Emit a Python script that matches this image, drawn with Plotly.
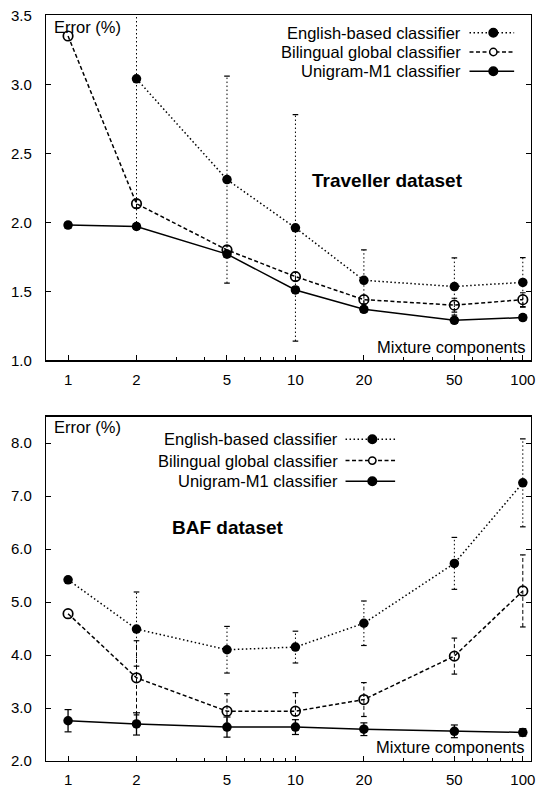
import plotly.graph_objects as go

# ---------------- data ----------------
mixtures = [1, 2, 5, 10, 20, 50, 100]
x_tick_labels = ["1", "2", "5", "10", "20", "50", "100"]
minor_ticks = [3, 4, 6, 7, 8, 9, 30, 40, 60, 70, 80, 90]
series_names = ["English-based classifier", "Bilingual global classifier", "Unigram-M1 classifier"]

# Traveller dataset (top)
trav_english = [None, 3.04, 2.31, 1.96, 1.58, 1.535, 1.565]
trav_english_err = [0, 1.07, 0.75, 0.82, 0.22, 0.207, 0.18]
trav_bilingual = [3.35, 2.135, 1.80, 1.607, 1.44, 1.40, 1.44]
trav_bilingual_err = [0, 0.03, 0.03, 0.03, 0.03, 0.05, 0.05]
trav_unigram = [1.98, 1.97, 1.77, 1.51, 1.37, 1.29, 1.31]
trav_unigram_err = [0.02, 0.02, 0.02, 0.02, 0.02, 0.02, 0.02]

# BAF dataset (bottom)
baf_english = [5.42, 4.49, 4.10, 4.15, 4.60, 5.73, 7.25]
baf_english_err = [0, 0.70, 0.44, 0.30, 0.42, 0.49, 0.83]
baf_bilingual = [4.78, 3.57, 2.94, 2.94, 3.16, 3.98, 5.21]
baf_bilingual_err = [0, 0.70, 0.33, 0.35, 0.32, 0.34, 0.68]
baf_unigram = [2.76, 2.70, 2.64, 2.64, 2.60, 2.56, 2.54]
baf_unigram_err = [0.21, 0.21, 0.19, 0.14, 0.12, 0.12, 0.07]

# ---------------- layout helpers ----------------
W, H = 541, 794
ML, MR, MT, MB = 46, 6, 14, 24
PW = W - ML - MR
PH = H - MT - MB


def fx(px):
    return (px - ML) / PW


def fy(py):
    return (H - MB - py) / PH


FONT = "Liberation Sans, Arial, Helvetica, sans-serif"
DOT = "1.5px,2.5px"
DASH = "4px,2.5px"
styles = [
    dict(dash=DOT, symbol="circle", open=False),
    dict(dash=DASH, symbol="circle-open", open=True),
    dict(dash="solid", symbol="circle", open=False),
]

fig = go.Figure()


def add_series(xaxis, yaxis, vals, errs, st):
    ex, ey, cx, cy = [], [], [], []
    for x, v, e in zip(mixtures, vals, errs):
        if v is None or not e:
            continue
        ex += [x, x, None]
        ey += [v - e, v + e, None]
        cx += [x, x]
        cy += [v - e, v + e]
    lw = 1.0 if st["dash"] != "solid" else 1.3
    fig.add_trace(go.Scatter(x=ex, y=ey, mode="lines", xaxis=xaxis, yaxis=yaxis,
                             line=dict(color="black", width=lw, dash=st["dash"]),
                             showlegend=False, hoverinfo="skip"))
    fig.add_trace(go.Scatter(x=cx, y=cy, mode="markers", xaxis=xaxis, yaxis=yaxis,
                             marker=dict(symbol="line-ew", size=5 if st["dash"] == "solid" else 4,
                                         line=dict(color="black", width=1.2)),
                             showlegend=False, hoverinfo="skip"))
    mk = dict(symbol=st["symbol"], size=9.5, color="black")
    if st["open"]:
        mk["line"] = dict(color="black", width=1.7)
    fig.add_trace(go.Scatter(x=mixtures, y=vals, mode="lines+markers", xaxis=xaxis, yaxis=yaxis,
                             line=dict(color="black", width=1.5, dash=st["dash"]),
                             marker=mk, showlegend=False, connectgaps=False))


for vals, errs, st in zip([trav_english, trav_bilingual, trav_unigram],
                          [trav_english_err, trav_bilingual_err, trav_unigram_err], styles):
    add_series("x", "y", vals, errs, st)
for vals, errs, st in zip([baf_english, baf_bilingual, baf_unigram],
                          [baf_english_err, baf_bilingual_err, baf_unigram_err], styles):
    add_series("x2", "y2", vals, errs, st)

xaxis_common = dict(
    type="log", range=[-0.097, 2.036],
    tickmode="array", tickvals=mixtures, ticktext=x_tick_labels,
    ticks="inside", ticklen=5, tickwidth=1, tickcolor="black",
    minor=dict(tickmode="array", tickvals=minor_ticks,
               ticks="inside", ticklen=3, tickcolor="black", showgrid=False),
    showline=True, linecolor="black", linewidth=1.2, mirror=True,
    showgrid=False, zeroline=False,
    tickfont=dict(family=FONT, size=15, color="black"),
    ticklabelstandoff=5,
)
yaxis_common = dict(
    ticks="inside", ticklen=5, tickwidth=1, tickcolor="black",
    showline=True, linecolor="black", linewidth=1.2, mirror="ticks",
    showgrid=False, zeroline=False, tickformat=".1f",
    tickfont=dict(family=FONT, size=15, color="black"),
    ticklabelstandoff=10,
)

top_dom = [fy(364), fy(14.3)]
bot_dom = [0, fy(421)]

fig.update_layout(
    width=W, height=H,
    margin=dict(l=ML, r=MR, t=MT, b=MB),
    paper_bgcolor="white", plot_bgcolor="white",
    xaxis=dict(**xaxis_common, anchor="y"),
    yaxis=dict(**yaxis_common, domain=top_dom, range=[1.0, 3.5], dtick=0.5, tick0=1.0, anchor="x"),
    xaxis2=dict(**xaxis_common, anchor="y2"),
    yaxis2=dict(**yaxis_common, domain=bot_dom, range=[2.0, 8.5], dtick=1, tick0=2.0, anchor="x2"),
    showlegend=False,
)

ann = []
txt = dict(family=FONT, size=16.5, color="black")
bold = dict(family="Liberation Sans, Arial, sans-serif", size=19, color="black")
ann.append(dict(text="Error (%)", x=fx(52), y=fy(25.7), xanchor="left", yanchor="middle", font=txt))
ann.append(dict(text="Error (%)", x=fx(52), y=fy(431.7), xanchor="left", yanchor="middle", font=txt))
ann.append(dict(text="Mixture components", x=fx(532), y=fy(350.7), xanchor="right", yanchor="middle", font=txt))
ann.append(dict(text="Mixture components", x=fx(531), y=fy(755.7), xanchor="right", yanchor="middle", font=txt))
ann.append(dict(text="<b>Traveller dataset</b>", x=fx(390), y=fy(182), xanchor="center", yanchor="middle", font=bold))
ann.append(dict(text="<b>BAF dataset</b>", x=fx(229), y=fy(533), xanchor="center", yanchor="middle", font=bold))

shapes = []
legend_specs = [
    dict(text_right=466, s0=473, s1=518, mk=497, rows=[32, 51.5, 71]),
    dict(text_right=342, s0=348, s1=398, mk=375, rows=[444, 465.5, 486.5]),
]
for spec in legend_specs:
    for name, st, row in zip(series_names, styles, spec["rows"]):
        ann.append(dict(text=name, x=fx(spec["text_right"]), y=fy(row), xanchor="right",
                        yanchor="middle", font=dict(family=FONT, size=16.5, color="black")))
        shapes.append(dict(type="line", xref="paper", yref="paper",
                           x0=fx(spec["s0"]), x1=fx(spec["s1"]), y0=fy(row), y1=fy(row),
                           line=dict(color="black", width=1.5, dash=st["dash"])))
        rr = 4.3 if not st["open"] else 3.7
        shapes.append(dict(type="circle", xref="paper", yref="paper",
                           x0=fx(spec["mk"] - rr), x1=fx(spec["mk"] + rr),
                           y0=fy(row + rr), y1=fy(row - rr),
                           fillcolor="white" if st["open"] else "black",
                           line=dict(color="black", width=1.5)))

for a in ann:
    a.update(xref="paper", yref="paper", showarrow=False)
fig.update_layout(annotations=ann, shapes=shapes)

fig.write_html("out.html",
               config={"displayModeBar": False, "staticPlot": True},
               post_script="document.body.style.margin='0';document.body.style.overflow='hidden';")
